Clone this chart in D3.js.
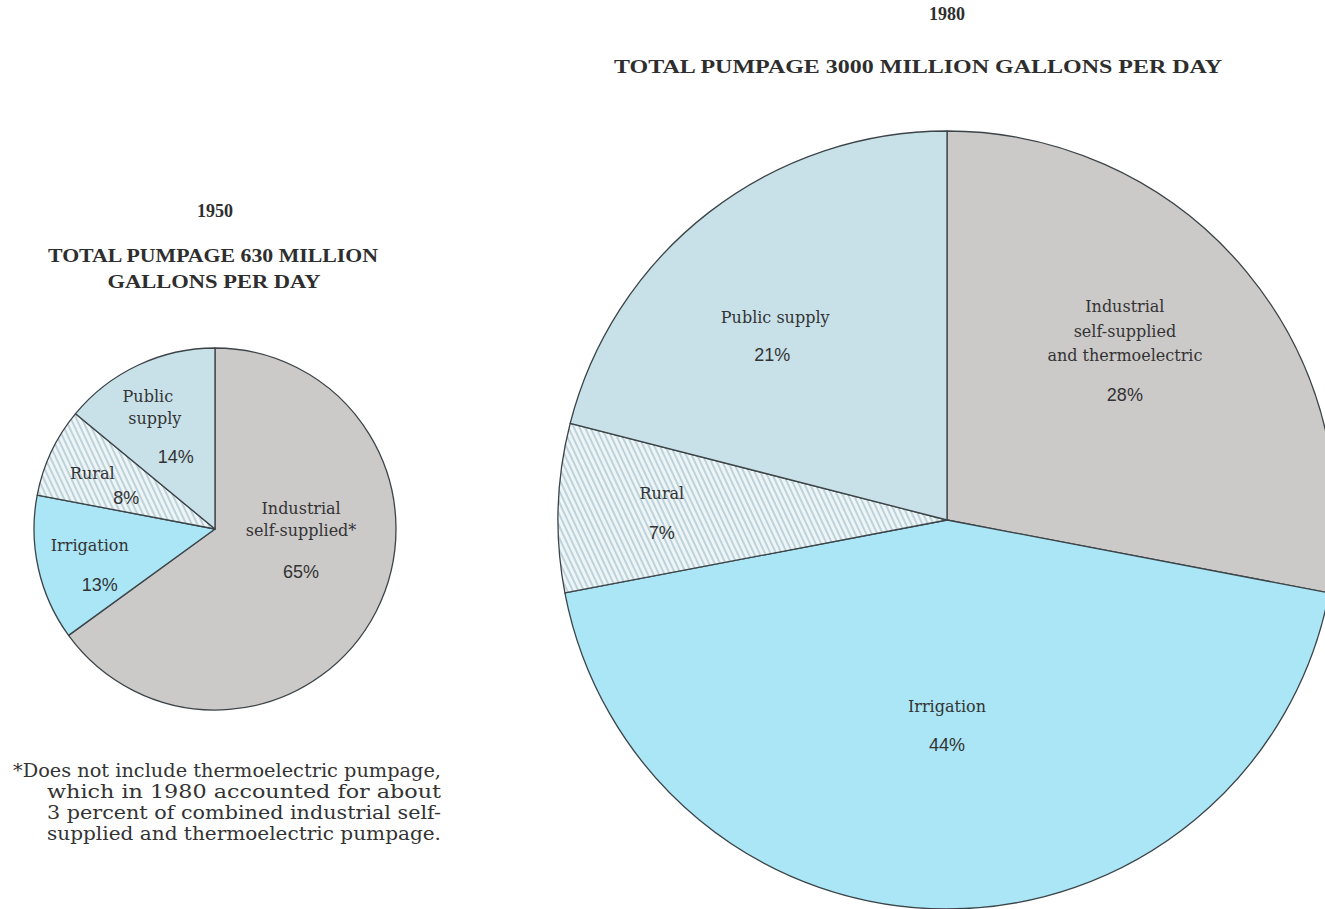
<!DOCTYPE html>
<html>
<head>
<meta charset="utf-8">
<script src="https://d3js.org/d3.v7.min.js"></script>
<style>
  body { margin: 0; background: #fff; }
  svg { display: block; }
  .ttl { font-family: "Liberation Serif", "DejaVu Serif", serif; font-weight: bold; fill: #2e2e2e; }
  .lbl { font-family: "DejaVu Serif", "Liberation Serif", serif; fill: #333; }
  .pct { font-family: "Liberation Sans", Arial, sans-serif; fill: #333; }
  .note { font-family: "DejaVu Serif", "Liberation Serif", serif; fill: #333; }
</style>
</head>
<body>
<svg id="chart" width="1325" height="909"></svg>
<script>

// ---- data ----
var categories = ["Industrial", "Irrigation", "Rural", "Public supply"];
var values1950 = [65, 13, 8, 14];
var values1980 = [28, 44, 7, 21];

var labels1950 = [["Industrial", "self-supplied*"], ["Irrigation"], ["Rural"], ["Public", "supply"]];
var labels1980 = [["Industrial", "self-supplied", "and  thermoelectric"], ["Irrigation"], ["Rural"], ["Public supply"]];

var titles1950 = ["1950", "TOTAL PUMPAGE 630 MILLION", "GALLONS PER DAY"];
var titles1980 = ["1980", "TOTAL PUMPAGE 3000 MILLION GALLONS PER DAY"];

var footnote = [
  "*Does not include thermoelectric pumpage,",
  "which  in  1980  accounted  for  about",
  "3 percent of combined industrial self-",
  "supplied and thermoelectric pumpage."
];

var svg = d3.select("#chart");

var color = d3.scaleOrdinal()
    .domain(categories)
    .range(["#ccc9c9", "#aae6f6", "url(#hatch)", "#c8e1e9"]);

// hatch for Rural
var defs = svg.append("defs");
var pat = defs.append("pattern")
    .attr("id", "hatch")
    .attr("patternUnits", "userSpaceOnUse")
    .attr("width", 5).attr("height", 5)
    .attr("patternTransform", "rotate(-25)");
pat.append("rect").attr("width", 5).attr("height", 5).attr("fill", "#eef5f7");
pat.append("rect").attr("width", 2).attr("height", 5).attr("fill", "#bdd2da");

var pie = d3.pie().sort(null).value(function(d) { return d.v; });

function drawPie(cx, cy, r, values, labels, opts) {
  var data = categories.map(function(c, i) { return {cat: c, v: values[i], lab: labels[i]}; });
  var arcs = pie(data);
  var arc = d3.arc().innerRadius(0).outerRadius(r);
  var g = svg.append("g").attr("transform", "translate(" + cx + "," + cy + ")");

  g.selectAll("path.slice")
    .data(arcs)
    .enter().append("path")
      .attr("class", "slice")
      .attr("d", arc)
      .attr("fill", function(d) { return color(d.data.cat); })
      .attr("stroke", "#3c4448")
      .attr("stroke-width", 1.3)
      .attr("stroke-linejoin", "round");

  // labels, placed at a fraction of the radius near the mid angle
  arcs.forEach(function(d, i) {
    var o = opts[i];
    var ang = (d.startAngle + d.endAngle) / 2 + (o.da || 0);
    var x = Math.sin(ang) * r * o.k;
    var y = -Math.cos(ang) * r * o.k + (o.dy || 0);
    var lines = d.data.lab;
    var top = y - ((lines.length - 1) * o.lh + o.gap) / 2;
    lines.forEach(function(t, j) {
      g.append("text")
        .attr("class", "lbl")
        .attr("x", x + (o.lx ? o.lx[j] : 0)).attr("y", top + j * o.lh)
        .attr("text-anchor", "middle")
        .attr("font-size", 16)
        .text(t);
    });
    g.append("text")
      .attr("class", "pct")
      .attr("x", x + (o.px || 0)).attr("y", top + (lines.length - 1) * o.lh + o.gap)
      .attr("text-anchor", "middle")
      .attr("font-size", 18)
      .text(d.data.v + "%");
  });
}

// 1950 pie
drawPie(215, 529, 181, values1950, labels1950, [
  {k: 0.485, da: -0.276, lh: 22, gap: 42},
  {k: 0.73, da: -0.105, lh: 22, gap: 40, px: 10},
  {k: 0.71, da: -0.14, lh: 22, gap: 25, px: 34},
  {k: 0.65, da: -0.127, dy: 3, lh: 22, gap: 39, px: 24, lx: [-4, 3]}
]);

// 1980 pie
drawPie(947, 520, 389, values1980, labels1980, [
  {k: 0.621, da: -0.052, lh: 24.5, gap: 40},
  {k: 0.544, da: 0, lh: 24, gap: 39},
  {k: 0.733, da: -0.028, lh: 24, gap: 40},
  {k: 0.636, da: -0.108, lh: 24, gap: 38, px: -3}
]);

// titles
svg.append("text").attr("class", "ttl").attr("x", 215).attr("y", 217)
  .attr("text-anchor", "middle").attr("font-size", 18).text(titles1950[0]);
svg.append("text").attr("class", "ttl").attr("x", 213).attr("y", 262)
  .attr("text-anchor", "middle").attr("font-size", 18)
  .attr("textLength", 330).attr("lengthAdjust", "spacingAndGlyphs").text(titles1950[1]);
svg.append("text").attr("class", "ttl").attr("x", 214).attr("y", 288)
  .attr("text-anchor", "middle").attr("font-size", 18)
  .attr("textLength", 213).attr("lengthAdjust", "spacingAndGlyphs").text(titles1950[2]);

svg.append("text").attr("class", "ttl").attr("x", 947).attr("y", 20)
  .attr("text-anchor", "middle").attr("font-size", 18).text(titles1980[0]);
svg.append("text").attr("class", "ttl").attr("x", 918).attr("y", 73)
  .attr("text-anchor", "middle").attr("font-size", 18)
  .attr("textLength", 608).attr("lengthAdjust", "spacingAndGlyphs").text(titles1980[1]);

// footnote, justified block
var noteX = [13, 47, 47, 47];
footnote.forEach(function(t, i) {
  svg.append("text").attr("class", "note")
    .attr("x", noteX[i]).attr("y", 777 + i * 21)
    .attr("font-size", 18.5)
    .attr("textLength", 441 - noteX[i]).attr("lengthAdjust", "spacingAndGlyphs")
    .text(t);
});

</script>
</body>
</html>
